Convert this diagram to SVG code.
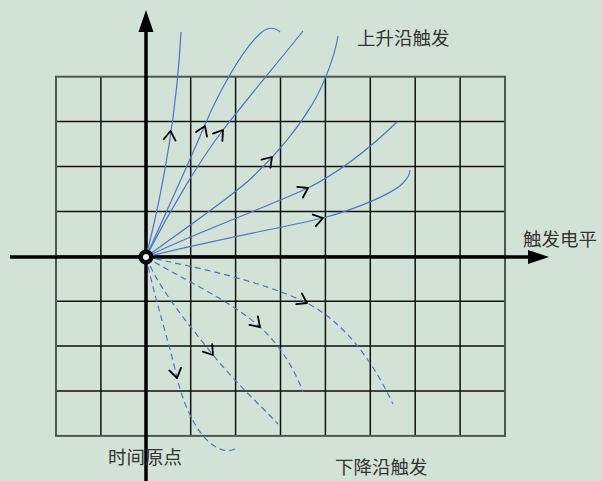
<svg xmlns="http://www.w3.org/2000/svg" xmlns:xlink="http://www.w3.org/1999/xlink" width="602" height="481" viewBox="0 0 602 481">
<style>
.grid{stroke:#111;stroke-width:1.5;fill:none}
.border{stroke:#4d584f;stroke-width:2;fill:none}
.axis{stroke:#000;stroke-width:3.5;fill:none}
.up{stroke:#4a76c6;stroke-width:1.2;fill:none}
.down{stroke:#4a76c6;stroke-width:1.2;fill:none;stroke-dasharray:6 4}
.ah{stroke:#000;stroke-width:1.8;fill:none;stroke-linecap:round;stroke-linejoin:round}
.lbl{font-family:"Noto Sans CJK SC","Noto Sans",sans-serif;font-size:18.5px;fill:#333}
</style>
<defs>
<path id="ah" class="ah" d="M-9,-6 L0,0 L-9,6"/>
</defs>
<rect width="602" height="481" fill="#d3e2d6"/>
<g id="grid">
<path class="grid" d="M100.9,76.7V435.9M145.8,76.7V435.9M190.7,76.7V435.9M235.6,76.7V435.9M280.5,76.7V435.9M325.4,76.7V435.9M370.3,76.7V435.9M415.2,76.7V435.9M460.1,76.7V435.9M56,121.6H505M56,166.5H505M56,211.4H505M56,256.3H505M56,301.2H505M56,346.1H505M56,391H505"/>
<rect class="border" x="56" y="76.7" width="449" height="359.2"/>
</g>
<g id="axes">
<path class="axis" d="M10,257H530M146,481V30"/>
<path d="M146,10L138.5,32H153.5Z" fill="#000"/>
<path d="M549,257L528,250V264Z" fill="#000"/>
</g>
<g id="connectors">
<path class="up" d="M146,257Q175,143 181,32"/>
<path class="up" d="M146,257C165,215 190,160 204,127C214,103 240,50 262,32C268,27 275,27 280,32"/>
<path class="up" d="M146,257C170,210 200,160 223,130C246,100 280,60 303,31"/>
<path class="up" d="M146,257C180,232 220,205 247,182C280,152 300,125 313,103C322,88 334,60 338,36"/>
<path class="up" d="M146,257C190,235 260,210 308,188C340,172 370,148 397,122"/>
<path class="up" d="M146,257C200,243 280,228 323,218C360,208 395,192 403,183C408,178 410,174 410,170"/>
<path class="down" d="M146,257C190,266 260,280 307,303C340,320 370,355 393,404"/>
<path class="down" d="M146,257C180,278 230,300 260,327C280,345 295,370 303,392"/>
<path class="down" d="M146,257C160,290 185,320 213,355C235,382 260,405 278,424"/>
<path class="down" d="M146,257C155,300 170,345 177,378C185,410 200,440 218,448C225,452 232,451 237,448"/>
<use xlink:href="#ah" transform="translate(170.5,131) rotate(-84)"/>
<use xlink:href="#ah" transform="translate(205,126) rotate(-67)"/>
<use xlink:href="#ah" transform="translate(223,130) rotate(-53)"/>
<use xlink:href="#ah" transform="translate(272,157) rotate(-48)"/>
<use xlink:href="#ah" transform="translate(308,188) rotate(-28)"/>
<use xlink:href="#ah" transform="translate(323,218) rotate(-15)"/>
<use xlink:href="#ah" transform="translate(307,303) rotate(28)"/>
<use xlink:href="#ah" transform="translate(260,327) rotate(45)"/>
<use xlink:href="#ah" transform="translate(213,355) rotate(52)"/>
<use xlink:href="#ah" transform="translate(177,378) rotate(78)"/>
</g>
<g id="origin">
<circle cx="146" cy="257" r="5.3" fill="#f2f4ff" stroke="#000" stroke-width="4.5"/>
</g>
<g id="labels">
<text class="lbl" x="357" y="44.5">上升沿触发</text>
<text class="lbl" x="523" y="245.5">触发电平</text>
<text class="lbl" x="108" y="464">时间原点</text>
<text class="lbl" x="335" y="474">下降沿触发</text>
</g>
</svg>
